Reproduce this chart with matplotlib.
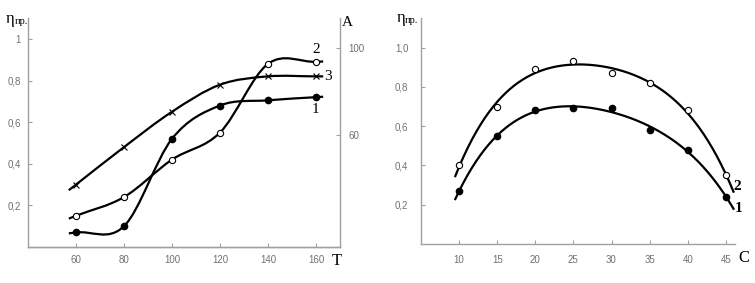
import numpy as np
import matplotlib.pyplot as plt
from matplotlib.path import Path
from matplotlib.patches import PathPatch

# left chart: efficiency vs temperature T
T = [60, 80, 100, 120, 140, 160]
eta_1 = [0.07, 0.10, 0.52, 0.68, 0.705, 0.72]
eta_2 = [0.15, 0.24, 0.42, 0.55, 0.88, 0.89]
eta_3 = [0.30, 0.48, 0.65, 0.78, 0.82, 0.82]

# right chart: efficiency vs concentration C
C = [10, 15, 20, 25, 30, 35, 40, 45]
c_eta_1 = [0.27, 0.55, 0.68, 0.69, 0.69, 0.58, 0.48, 0.24]
c_eta_2 = [0.40, 0.70, 0.89, 0.93, 0.87, 0.82, 0.68, 0.35]

GRAY = '#a0a0a0'
LABEL = '#707070'
SERIF = 'Liberation Serif'


def smooth_path(x, y, tail=3.0):
    # excel-like smoothed line: cubic bezier segments, catmull-rom tangents
    x = np.asarray(x, float)
    y = np.asarray(y, float)
    n = len(x)
    dx = np.empty(n)
    dy = np.empty(n)
    dx[1:-1] = (x[2:] - x[:-2]) / 2
    dy[1:-1] = (y[2:] - y[:-2]) / 2
    dx[0], dy[0] = x[1] - x[0], y[1] - y[0]
    dx[-1], dy[-1] = x[-1] - x[-2], y[-1] - y[-2]
    k0 = tail / dx[0]
    k1 = tail / dx[-1]
    verts = [(x[0] - dx[0] * k0, y[0] - dy[0] * k0), (x[0], y[0])]
    codes = [Path.MOVETO, Path.LINETO]
    for i in range(n - 1):
        verts += [(x[i] + dx[i] / 3, y[i] + dy[i] / 3),
                  (x[i + 1] - dx[i + 1] / 3, y[i + 1] - dy[i + 1] / 3),
                  (x[i + 1], y[i + 1])]
        codes += [Path.CURVE4] * 3
    verts.append((x[-1] + dx[-1] * k1, y[-1] + dy[-1] * k1))
    codes.append(Path.LINETO)
    return Path(verts, codes)


def style_axes(ax):
    ax.spines['top'].set_visible(False)
    for s in ['left', 'bottom', 'right']:
        ax.spines[s].set_color(GRAY)
        ax.spines[s].set_linewidth(1.0)
    ax.tick_params(direction='in', length=3, width=0.8, color=GRAY,
                   labelcolor=LABEL, labelsize=7)
    for lab in ax.get_xticklabels() + ax.get_yticklabels():
        lab.set_fontfamily('Liberation Sans')


fig = plt.figure(figsize=(7.55, 2.83), dpi=100)

# ---- left
ax1 = fig.add_axes([0.0371, 0.1272, 0.4132, 0.8088])
ax1.set_xlim(40, 170)
ax1.set_ylim(0, 1.1)
ax1.spines['right'].set_visible(False)
ax1.set_xticks(T)
ax1.set_xticklabels([str(t) for t in T])
ax1.set_yticks([0.2, 0.4, 0.6, 0.8, 1.0])
ax1.set_yticklabels(['0,2', '0,4', '0,6', '0,8', '1'])
style_axes(ax1)
ax1.tick_params(axis='x', pad=6)
ax1.tick_params(axis='y', pad=5)

for ys in [eta_1, eta_2, eta_3]:
    ax1.add_patch(PathPatch(smooth_path(T, ys), fill=False, lw=1.6,
                            edgecolor='black', capstyle='butt'))
ax1.plot(T, eta_1, 'o', ms=4.5, color='black', zorder=3)
ax1.plot(T, eta_2, 'o', ms=4.5, mfc='white', mec='black', mew=0.8, zorder=3)
ax1.plot(T, eta_3, 'x', ms=5, color='black', mew=0.8, zorder=3)

ax1.text(T[-1], eta_2[-1] + 0.03, '2', family=SERIF, fontsize=11, ha='center', va='bottom')
ax1.text(T[-1] + 3.5, eta_3[-1], '3', family=SERIF, fontsize=11, ha='left', va='center')
ax1.text(T[-1], eta_1[-1] - 0.03, '1', family=SERIF, fontsize=11, ha='center', va='top')

ax1b = ax1.twinx()
ax1b.set_ylim(8.7, 113.6)
ax1b.set_yticks([60, 100])
ax1b.spines['left'].set_visible(False)
style_axes(ax1b)
ax1b.tick_params(axis='y', pad=6)

fig.text(337 / 755, 1 - 261 / 283, 'T', family=SERIF, fontsize=12, ha='center', va='center')
fig.text(347 / 755, 1 - 23 / 283, 'A', family=SERIF, fontsize=11, ha='center', va='center')
fig.text(6 / 755, 1 - 23 / 283, 'η', family=SERIF, fontsize=12, ha='left', va='baseline')
fig.text(15 / 755, 1 - 24 / 283, 'пр.', family=SERIF, fontsize=7.5, ha='left', va='baseline')

# ---- right
ax2 = fig.add_axes([0.5576, 0.1378, 0.4159, 0.7982])
ax2.set_xlim(5, 46.2)
ax2.set_ylim(0, 1.15)
ax2.spines['right'].set_visible(False)
ax2.set_xticks(C)
ax2.set_xticklabels([str(c) for c in C])
ax2.set_yticks([0.2, 0.4, 0.6, 0.8, 1.0])
ax2.set_yticklabels(['0,2', '0,4', '0,6', '0,8', '1,0'])
style_axes(ax2)
ax2.tick_params(axis='x', pad=8)
ax2.tick_params(axis='y', pad=9)

xs = np.linspace(9.5, 46, 200)
for ys in [c_eta_1, c_eta_2]:
    coef = np.polyfit(C, ys, 4)
    ax2.plot(xs, np.polyval(coef, xs), color='black', lw=1.6)
ax2.plot(C, c_eta_1, 'o', ms=4.5, color='black', zorder=3)
ax2.plot(C, c_eta_2, 'o', ms=4.5, mfc='white', mec='black', mew=0.8, zorder=3)

fig.text(737 / 755, 1 - 187 / 283, '2', family=SERIF, fontsize=11, weight='bold', ha='center', va='center')
fig.text(739 / 755, 1 - 209 / 283, '1', family=SERIF, fontsize=11, weight='bold', ha='center', va='center')
fig.text(744 / 755, 1 - 258 / 283, 'C', family=SERIF, fontsize=12, ha='center', va='center')
fig.text(397 / 755, 1 - 22 / 283, 'η', family=SERIF, fontsize=12, ha='left', va='baseline')
fig.text(405 / 755, 1 - 23 / 283, 'пр.', family=SERIF, fontsize=7.5, ha='left', va='baseline')

fig.savefig('out.png', dpi=100)
